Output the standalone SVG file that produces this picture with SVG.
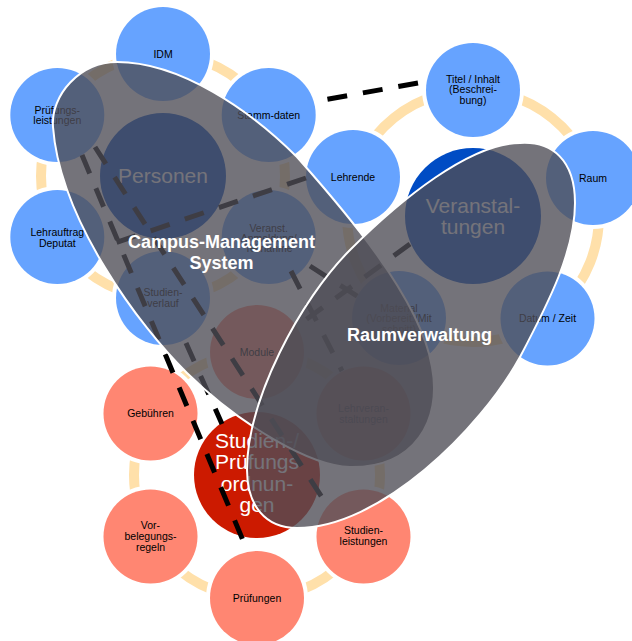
<svg xmlns="http://www.w3.org/2000/svg" width="632" height="641" viewBox="0 0 632 641">
<style>
.ring{fill:none;stroke:#FFE0AA;stroke-width:10}
.sb,.sr,.cb,.cr{stroke:#fff;stroke-width:8;paint-order:stroke}
.sb{fill:#66A3FF}
.sr{fill:#FF8672}
.cb{fill:#004CC4}
.cr{fill:#CC1A00}
text{font-family:"Liberation Sans",Arial,sans-serif;text-anchor:middle}
.t{font-size:10.5px;fill:#000}
.big{font-size:21px;fill:#fff}
.lbl{font-size:18px;font-weight:bold;fill:#fff}
.dash{fill:none;stroke:#000;stroke-width:5;stroke-dasharray:20 16}
.ov{fill:#4F4E56;fill-opacity:0.79;stroke:#fff;stroke-width:2}
</style>
<rect width="632" height="641" fill="#fff"/>
<g id="rings">
<circle class="ring" cx="163" cy="176" r="122"/>
<circle class="ring" cx="473" cy="216" r="126"/>
<circle class="ring" cx="257" cy="475" r="123"/>
</g>
<g id="personen">
<circle class="cb" cx="163" cy="176" r="63"/>
<text class="big" x="163" y="183">Personen</text>
</g>
<g id="idm"><circle class="sb" cx="163" cy="54" r="47"/><text class="t" x="163" y="58">IDM</text></g>
<g id="stammdaten"><circle class="sb" cx="268.7" cy="115" r="47"/><text class="t" x="268.7" y="118.5">Stamm-daten</text></g>
<g id="veranst-anmeldung"><circle class="sb" cx="268.7" cy="237" r="47"/><text class="t" x="268.7" y="231.5">Veranst.<tspan x="268.7" dy="10">Anmeldung/</tspan><tspan x="268.7" dy="10">Teilnahme</tspan></text></g>
<g id="studienverlauf"><circle class="sb" cx="163" cy="298" r="47"/><text class="t" x="163" y="296">Studien-<tspan x="163" dy="11">verlauf</tspan></text></g>
<g id="lehrauftrag"><circle class="sb" cx="57.3" cy="237" r="47"/><text class="t" x="57.3" y="236">Lehrauftrag<tspan x="57.3" dy="10.7">Deputat</tspan></text></g>
<g id="pruefungsleistungen"><circle class="sb" cx="57.3" cy="115" r="47"/><text class="t" x="57.3" y="113.5">Prüfungs-<tspan x="57.3" dy="10.5">leistungen</tspan></text></g>
<g id="veranstaltungen">
<circle class="cb" cx="473" cy="216" r="68"/>
<text class="big" x="473" y="213">Veranstal-<tspan x="473" dy="21">tungen</tspan></text>
</g>
<g id="titel"><circle class="sb" cx="473" cy="90" r="47"/><text class="t" x="473" y="82.5">Titel / Inhalt<tspan x="473" dy="10.5">(Beschrei-</tspan><tspan x="473" dy="10.5">bung)</tspan></text></g>
<g id="raum"><circle class="sb" cx="593" cy="178" r="47"/><text class="t" x="593" y="181.5">Raum</text></g>
<g id="datum"><circle class="sb" cx="547.5" cy="318.5" r="47"/><text class="t" x="547.5" y="322">Datum / Zeit</text></g>
<g id="material"><circle class="sb" cx="399" cy="318" r="47"/><text class="t" x="399" y="311.5">Material<tspan x="399" dy="10.5">(Vorbereit./Mit</tspan><tspan x="399" dy="10.5">schnitt)</tspan></text></g>
<g id="lehrende"><circle class="sb" cx="353" cy="177" r="47"/><text class="t" x="353" y="180.5">Lehrende</text></g>
<g id="ordnungen">
<circle class="cr" cx="257" cy="475" r="63"/>
<text class="big" x="257" y="448">Studien-/<tspan x="257" dy="21.3">Prüfungs</tspan><tspan x="257" dy="21.3">ordnun-</tspan><tspan x="257" dy="21.3">gen</tspan></text>
</g>
<g id="module"><circle class="sr" cx="257" cy="352" r="47"/><text class="t" x="257" y="355.5">Module</text></g>
<g id="lehrveranstaltungen"><circle class="sr" cx="363.5" cy="413.5" r="47"/><text class="t" x="363.5" y="412">Lehrveran-<tspan x="363.5" dy="10.5">staltungen</tspan></text></g>
<g id="studienleistungen"><circle class="sr" cx="363.5" cy="536.5" r="47"/><text class="t" x="363.5" y="534.2">Studien-<tspan x="363.5" dy="10.6">leistungen</tspan></text></g>
<g id="pruefungen"><circle class="sr" cx="257" cy="598" r="47"/><text class="t" x="257" y="601.5">Prüfungen</text></g>
<g id="vorbelegung"><circle class="sr" cx="150.5" cy="536.5" r="47"/><text class="t" x="150.5" y="528.5">Vor-<tspan x="150.5" dy="11.2">belegungs-</tspan><tspan x="150.5" dy="11.2">regeln</tspan></text></g>
<g id="gebuehren"><circle class="sr" cx="150.5" cy="413.5" r="47"/><text class="t" x="150.5" y="417">Gebühren</text></g>
<g id="connectors">
<line class="dash" x1="418" y1="83" x2="326" y2="99.5"/>
<line class="dash" x1="82" y1="155" x2="247" y2="550"/>
<line class="dash" x1="95" y1="147" x2="325" y2="502"/>
<line class="dash" x1="186" y1="343" x2="222" y2="424"/>
<line class="dash" x1="306" y1="178" x2="103" y2="247"/>
<line class="dash" x1="291" y1="271" x2="342" y2="371"/>
<line class="dash" x1="410" y1="244" x2="296" y2="327"/>
<line class="dash" x1="310" y1="266" x2="360" y2="298"/>
</g>
<g id="campus-management">
<path class="ov" d="M53,127 C50.6,95 80,62 117,62 C180,62 250,110 297,157 C335,200 420,295 432,367 C442,420 415,468 350,467 C310,466 240,425 187,373 C140,327 60,220 53,127 Z"/>
</g>
<g id="raumverwaltung">
<path class="ov" d="M520,143 C552,141 575,160 575,203 C575,250 550,300 520,357 C480,430 380,528 297,528 C265,528 247,505 247,470 C247,400 300,300 350,250 C400,200 470,143 520,143 Z"/>
</g>
<g id="labels">
<text class="lbl" x="221.5" y="248">Campus-Management<tspan x="221.5" dy="21">System</tspan></text>
<text class="lbl" x="419.5" y="341">Raumverwaltung</text>
</g>
</svg>
